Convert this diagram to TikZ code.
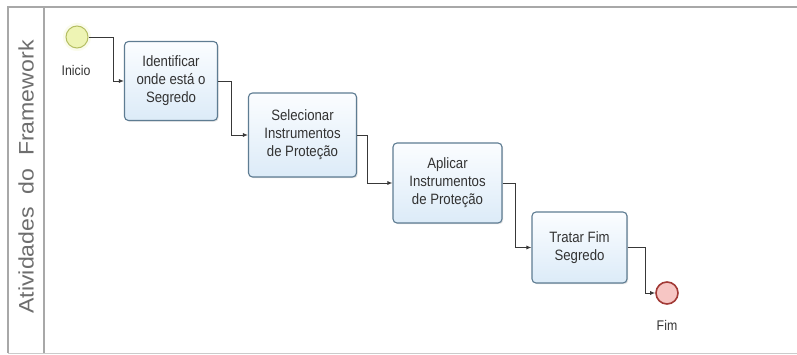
\documentclass[tikz,border=0pt]{standalone}
\usepackage{fontspec}
\setmainfont{Liberation Sans}
\newfontfamily\narrowsans[FakeStretch=0.88]{Liberation Sans}
\usetikzlibrary{arrows.meta,shadows,calc}

\definecolor{poolline}{HTML}{A8A8A8}
\definecolor{lanetext}{HTML}{6E6E6E}
\definecolor{taskborder}{HTML}{5E7C92}
\definecolor{tasktop}{HTML}{FBFDFF}
\definecolor{taskbottom}{HTML}{DCEBF8}
\definecolor{startfill}{HTML}{EEF4B4}
\definecolor{startborder}{HTML}{B4BE62}
\definecolor{endfill}{HTML}{F7C6C4}
\definecolor{endborder}{HTML}{A23A36}
\definecolor{flowcolor}{HTML}{383838}

\tikzset{
  task/.style={draw=taskborder, line width=1.1pt, rounded corners=4pt,
    top color=tasktop, bottom color=taskbottom,
    drop shadow={opacity=0.22, shadow xshift=1.2pt, shadow yshift=-1.2pt},
    align=center, font=\narrowsans\fontsize{15}{18}\selectfont, text=black!80,
    inner sep=0pt},
  startevent/.style={circle, draw=startborder, line width=1pt, fill=startfill,
    minimum size=22pt, inner sep=0pt},
  endevent/.style={circle, draw=endborder, line width=1.6pt, fill=endfill,
    minimum size=22pt, inner sep=0pt},
  evlabel/.style={font=\narrowsans\fontsize{14}{16}\selectfont, text=black!80},
  flow/.style={draw=flowcolor, line width=0.9pt,
    -{Latex[length=5pt,width=4pt]}},
}

\begin{document}
\begin{tikzpicture}[x=1pt,y=-1pt]
  \useasboundingbox (0,0) rectangle (797,355);
  \fill[white] (0,0) rectangle (797,355);

  % pool and lane header
  \draw[poolline, line width=1.6pt] (8,353) -- (8,7) -- (797,7);
  \draw[poolline, line width=1.2pt] (44,7) -- (44,353);
  \draw[poolline!60, line width=1pt] (8,353) -- (797,353);
  \node[rotate=90, text=lanetext, font=\fontsize{21}{24}\selectfont] (lane) at (26,177)
    {\scalebox{1.1}[1]{Atividades\hspace{0.55em}do\hspace{0.55em}Framework}};

  % events
  \fill[startfill!50, opacity=0.5] (77,37) circle (14pt);
  \node[startevent] (start) at (77,37) {};
  \node[evlabel] (startlbl) at (76,70) {Inicio};
  \node[endevent] (fim) at (667,293) {};
  \node[evlabel] (fimlbl) at (667,325) {Fim};

  % tasks
  \node[task, minimum width=93pt, minimum height=79pt] (t1) at (171,81)
    {Identificar\\onde está o\\Segredo};
  \node[task, minimum width=108pt, minimum height=84pt] (t2) at (302.5,135)
    {Selecionar\\Instrumentos\\de Proteção};
  \node[task, minimum width=109pt, minimum height=80pt] (t3) at (447.5,183)
    {Aplicar\\Instrumentos\\de Proteção};
  \node[task, minimum width=95pt, minimum height=71pt] (t4) at (579.5,247.5)
    {Tratar Fim\\Segredo};

  % sequence flows
  \draw[flow] (start.east) -- ++(25,0) |- (t1.west);
  \draw[flow] (t1.east) -- ++(13,0) |- (t2.west);
  \draw[flow] (t2.east) -- ++(10,0) |- (t3.west);
  \draw[flow] (t3.east) -- ++(13,0) |- (t4.west);
  \draw[flow] (t4.east) -- ++(18,0) |- (fim.west);
\end{tikzpicture}
\end{document}
